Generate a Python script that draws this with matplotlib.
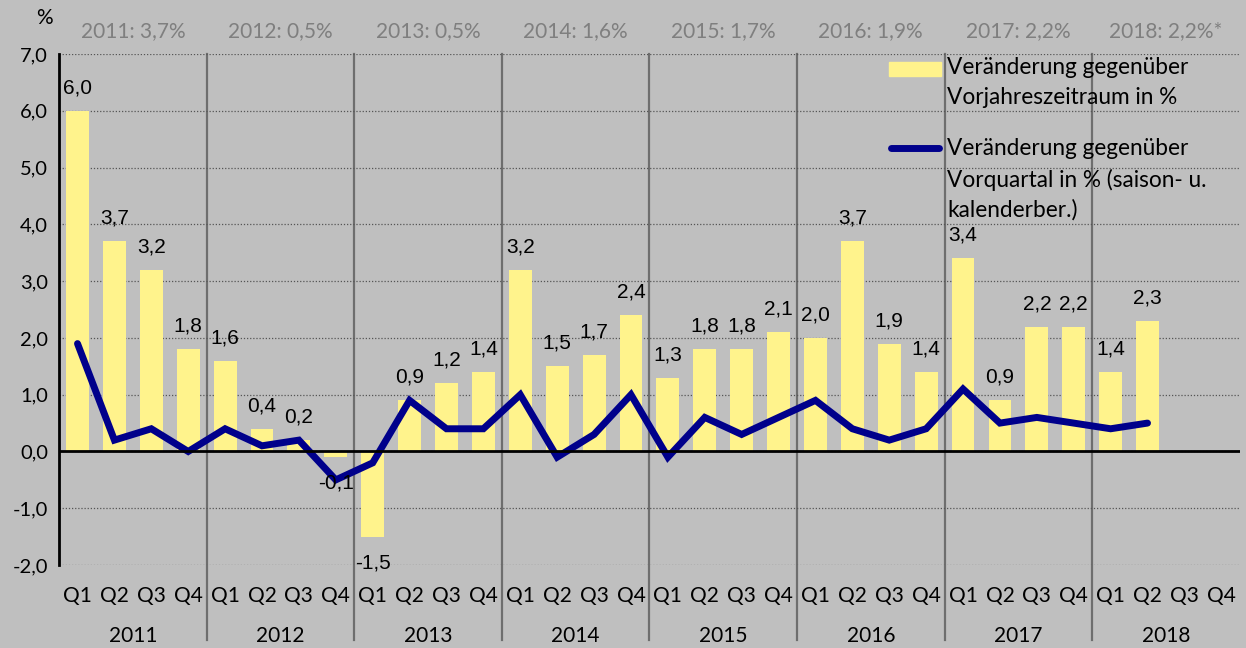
import numpy as np
import matplotlib.pyplot as plt
from matplotlib.patches import Rectangle
from matplotlib.lines import Line2D

# data
years = ['2011', '2012', '2013', '2014', '2015', '2016', '2017', '2018']
year_totals = ['2011: 3,7%', '2012: 0,5%', '2013: 0,5%', '2014: 1,6%',
               '2015: 1,7%', '2016: 1,9%', '2017: 2,2%', '2018: 2,2%*']
quarters = ['Q1', 'Q2', 'Q3', 'Q4']
yoy = [6.0, 3.7, 3.2, 1.8,
       1.6, 0.4, 0.2, -0.1,
       -1.5, 0.9, 1.2, 1.4,
       3.2, 1.5, 1.7, 2.4,
       1.3, 1.8, 1.8, 2.1,
       2.0, 3.7, 1.9, 1.4,
       3.4, 0.9, 2.2, 2.2,
       1.4, 2.3]
qoq = [1.9, 0.2, 0.4, 0.0,
       0.4, 0.1, 0.2, -0.5,
       -0.2, 0.9, 0.4, 0.4,
       1.0, -0.1, 0.3, 1.0,
       -0.1, 0.6, 0.3, 0.6,
       0.9, 0.4, 0.2, 0.4,
       1.1, 0.5, 0.6, 0.5,
       0.4, 0.5]

bg = '#bfbfbf'
bar_col = '#fff38c'
line_col = '#00008b'
label_font = ['Lato', 'DejaVu Sans']
num_font = ['Liberation Sans', 'DejaVu Sans']

fig = plt.figure(figsize=(12.46, 6.48), dpi=100, facecolor=bg)
ax = fig.add_axes([0.0474, 0.128, 0.9476, 0.7887], facecolor=bg)

n = len(years) * 4
x = np.arange(len(yoy))
ax.bar(x, yoy, width=0.62, color=bar_col, zorder=2)
ax.plot(np.arange(len(qoq)), qoq, color=line_col, lw=5, zorder=3,
        solid_joinstyle='miter', solid_capstyle='round')

# value labels on the bars
for xi, v in zip(x, yoy):
    txt = f'{v:.1f}'.replace('.', ',')
    off = 23 if v >= 0 else -26
    ax.annotate(txt, (xi, v), xytext=(0, off / 1.389), textcoords='offset points',
                ha='center', va='center', fontsize=15, family=num_font, zorder=4)

ax.set_xlim(-0.5, n - 0.5)
ax.set_ylim(-2, 7)
ax.set_yticks(np.arange(-2, 8, 1))
ax.set_yticklabels([f'{v:.1f}'.replace('.', ',') for v in np.arange(-2, 8, 1)],
                   family=label_font, fontsize=14.5)
ax.set_xticks(np.arange(n))
ax.set_xticklabels(quarters * len(years), family=label_font, fontsize=15)
ax.tick_params(axis='both', length=0, colors='black')
ax.tick_params(axis='x', pad=15)
ax.tick_params(axis='y', pad=8)

for s in ['top', 'right', 'bottom']:
    ax.spines[s].set_visible(False)
ax.spines['left'].set_linewidth(2)
ax.spines['left'].set_zorder(5)

ax.yaxis.grid(True, linestyle=(0, (1, 1.5)), color='#555555', lw=0.9, zorder=0)
ax.axhline(0, color='black', lw=2, zorder=3.5)

# year separators and labels
for i in range(1, len(years)):
    ax.axvline(i * 4 - 0.5, ymin=-0.147, ymax=1, color='#6e6e6e', lw=1.6,
               clip_on=False, zorder=1)
for i, (y, t) in enumerate(zip(years, year_totals)):
    cx = i * 4 + 1.5
    ax.text(cx, -0.138, y, transform=ax.get_xaxis_transform(), ha='center',
            va='center', fontsize=15, family=label_font)
    ax.text(cx, 1.045, t, transform=ax.get_xaxis_transform(), ha='center',
            va='center', fontsize=15, family=label_font, color='#7f7f7f')

fig.text(0.036, 0.972, '%', ha='center', va='center', fontsize=15, family=label_font)

# legend (drawn by hand to follow the original layout)
ax.add_patch(Rectangle((0.7028, 0.957), 0.044, 0.027, transform=ax.transAxes,
                       color=bar_col, clip_on=False, zorder=4))
ax.add_line(Line2D([0.7045, 0.7455], [0.816, 0.816], transform=ax.transAxes,
                   color=line_col, lw=5, solid_capstyle='round', zorder=4))
legend_lines = [(0.9726, 'Veränderung gegenüber'),
                (0.914, 'Vorjahreszeitraum in %'),
                (0.816, 'Veränderung gegenüber'),
                (0.753, 'Vorquartal in % (saison- u.'),
                (0.695, 'kalenderber.)')]
for yy, t in legend_lines:
    ax.text(0.752, yy, t, transform=ax.transAxes, ha='left', va='center',
            fontsize=16.3, family=label_font, zorder=4)

fig.savefig('out.png', dpi=100, facecolor=bg)
